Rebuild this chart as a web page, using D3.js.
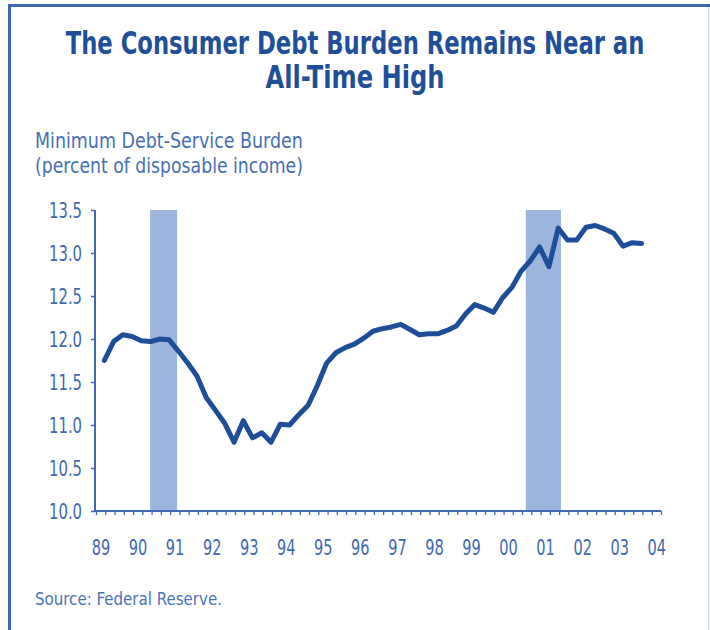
<!DOCTYPE html>
<html>
<head>
<meta charset="utf-8">
<script src="https://cdn.jsdelivr.net/npm/d3@7"></script>
<style>
  body { margin: 0; background: #fff; }
  text { font-family: "Liberation Sans Narrow", "DejaVu Sans Condensed", "Arial Narrow", sans-serif; }
</style>
</head>
<body>
<div id="chart"></div>
<script>
const width = 710
const height = 630

// quarterly burden, 1989Q1 .. 2003Q3 (percent of disposable income)
const startYear = 1989
const burden = [
  11.75, 11.97, 12.05, 12.03, 11.98, 11.97, 12.00, 11.99,
  11.86, 11.72, 11.57, 11.32, 11.17, 11.02, 10.80, 11.05,
  10.85, 10.91, 10.80, 11.01, 11.00, 11.12, 11.23, 11.46,
  11.72, 11.84, 11.90, 11.94, 12.01, 12.09, 12.12, 12.14,
  12.17, 12.11, 12.05, 12.06, 12.06, 12.10, 12.15, 12.29,
  12.40, 12.36, 12.31, 12.48, 12.60, 12.79, 12.91, 13.07,
  12.84, 13.29, 13.15, 13.15, 13.30, 13.32, 13.28, 13.23,
  13.08, 13.12, 13.11
]
const recessions = [[1990.46, 1991.19], [2000.6, 2001.55]]
const yTicks = [10.0, 10.5, 11.0, 11.5, 12.0, 12.5, 13.0, 13.5]
const xYears = d3.range(1989, 2005)
const xLabels = ['89','90','91','92','93','94','95','96','97','98','99','00','01','02','03','04']

const titleLines = ['The Consumer Debt Burden Remains Near an', 'All-Time High']
const axisTitle = ['Minimum Debt-Service Burden', '(percent of disposable income)']
const source = 'Source: Federal Reserve.'

const lineColor = '#1f4e98'
const axisColor = '#3f69b0'
const barColor = '#9cb5dd'

const svg = d3.select('#chart')
  .append('svg')
  .attr('width', width)
  .attr('height', height)

const xScale = d3.scaleLinear().domain([1989, 2004.25]).range([96, 661])
const yScale = d3.scaleLinear().domain([10, 13.5]).range([511, 210])

// squeeze text horizontally around its x anchor (the font is a condensed face)
const squeeze = (sel, s) => {
  sel.each(function () {
    const x = +this.getAttribute('x') || 0
    d3.select(this).attr('transform', `translate(${x * (1 - s)},0) scale(${s},1)`)
  })
}
const fitWidth = (sel, target) => {
  sel.each(function () {
    const s = target / this.getComputedTextLength()
    squeeze(d3.select(this), s)
  })
}

// frame
svg.append('line').attr('x1', 10).attr('x2', width).attr('y1', 5.5).attr('y2', 5.5)
  .attr('stroke', '#3b69b3').attr('stroke-width', 3)
svg.append('line').attr('x1', 9.5).attr('x2', 9.5).attr('y1', 4).attr('y2', height)
  .attr('stroke', '#3b69b3').attr('stroke-width', 3)
svg.append('line').attr('x1', 708.5).attr('x2', 708.5).attr('y1', 7).attr('y2', height)
  .attr('stroke', '#d3dbea').attr('stroke-width', 1.5)

// title
const title = svg.append('g').selectAll('text')
  .data(titleLines)
  .join('text')
  .attr('x', 355)
  .attr('y', (d, i) => 54 + i * 34)
  .attr('text-anchor', 'middle')
  .attr('font-size', 32)
  .attr('font-weight', 'bold')
  .attr('fill', '#1f4f99')
  .text(d => d)
fitWidth(title.filter((d, i) => i === 0), 579)
fitWidth(title.filter((d, i) => i === 1), 179)

// axis title
const at = svg.append('g').selectAll('text')
  .data(axisTitle)
  .join('text')
  .attr('x', 35)
  .attr('y', (d, i) => 148 + i * 25)
  .attr('font-size', 21)
  .attr('fill', '#4670b3')
  .text(d => d)
fitWidth(at, 268)

// recession bars
svg.append('g').selectAll('rect')
  .data(recessions)
  .join('rect')
  .attr('x', d => xScale(d[0]))
  .attr('width', d => xScale(d[1]) - xScale(d[0]))
  .attr('y', yScale(13.5))
  .attr('height', yScale(10) - yScale(13.5))
  .attr('fill', barColor)

// y axis
const yAxis = d3.axisLeft(yScale)
  .tickValues(yTicks)
  .tickSize(4)
  .tickPadding(9)
  .tickFormat(d3.format('.1f'))

const gy = svg.append('g')
  .attr('transform', 'translate(95,0)')
  .call(yAxis)
gy.select('.domain').attr('stroke', axisColor).attr('stroke-width', 2)
  .attr('d', `M0,${yScale(13.5)}V${yScale(10)}`)
gy.selectAll('.tick line').attr('stroke', axisColor).attr('stroke-width', 1.5)
const yText = gy.selectAll('.tick text')
  .attr('fill', axisColor)
  .attr('font-size', 21)
  .attr('font-family', '"Liberation Sans Narrow", "DejaVu Sans Condensed", sans-serif')
  .attr('dy', '0.36em')
squeeze(yText, 33 / yText.node().getComputedTextLength())

// x axis: quarterly ticks
const quarterTicks = d3.range(0, 62).map(k => 1989 + k / 4)
const xAxis = d3.axisBottom(xScale)
  .tickValues(quarterTicks)
  .tickSize(4)
  .tickFormat('')

const gx = svg.append('g')
  .attr('transform', `translate(0,${yScale(10)})`)
  .call(xAxis)
gx.select('.domain').attr('stroke', axisColor).attr('stroke-width', 2)
  .attr('d', `M95,0H${xScale(2004.25)}`)
gx.selectAll('.tick line').attr('stroke', axisColor).attr('stroke-width', 1.3)

const xText = svg.append('g').selectAll('text')
  .data(xYears)
  .join('text')
  .attr('x', d => xScale(d + 0.135))
  .attr('y', 555)
  .attr('text-anchor', 'middle')
  .attr('font-size', 21)
  .attr('fill', axisColor)
  .text((d, i) => xLabels[i])
squeeze(xText, 18.5 / xText.node().getComputedTextLength())

// line
const line = d3.line()
  .x((d, i) => xScale(startYear + (i + 0.9) / 4))
  .y(d => yScale(d))

svg.append('path')
  .datum(burden)
  .attr('d', line)
  .attr('fill', 'none')
  .attr('stroke', lineColor)
  .attr('stroke-width', 5)
  .attr('stroke-linejoin', 'round')
  .attr('stroke-linecap', 'round')

// source
const src = svg.append('text')
  .attr('x', 35)
  .attr('y', 605)
  .attr('font-size', 18)
  .attr('fill', '#4a74b8')
  .text(source)
fitWidth(src, 187)
</script>
</body>
</html>
